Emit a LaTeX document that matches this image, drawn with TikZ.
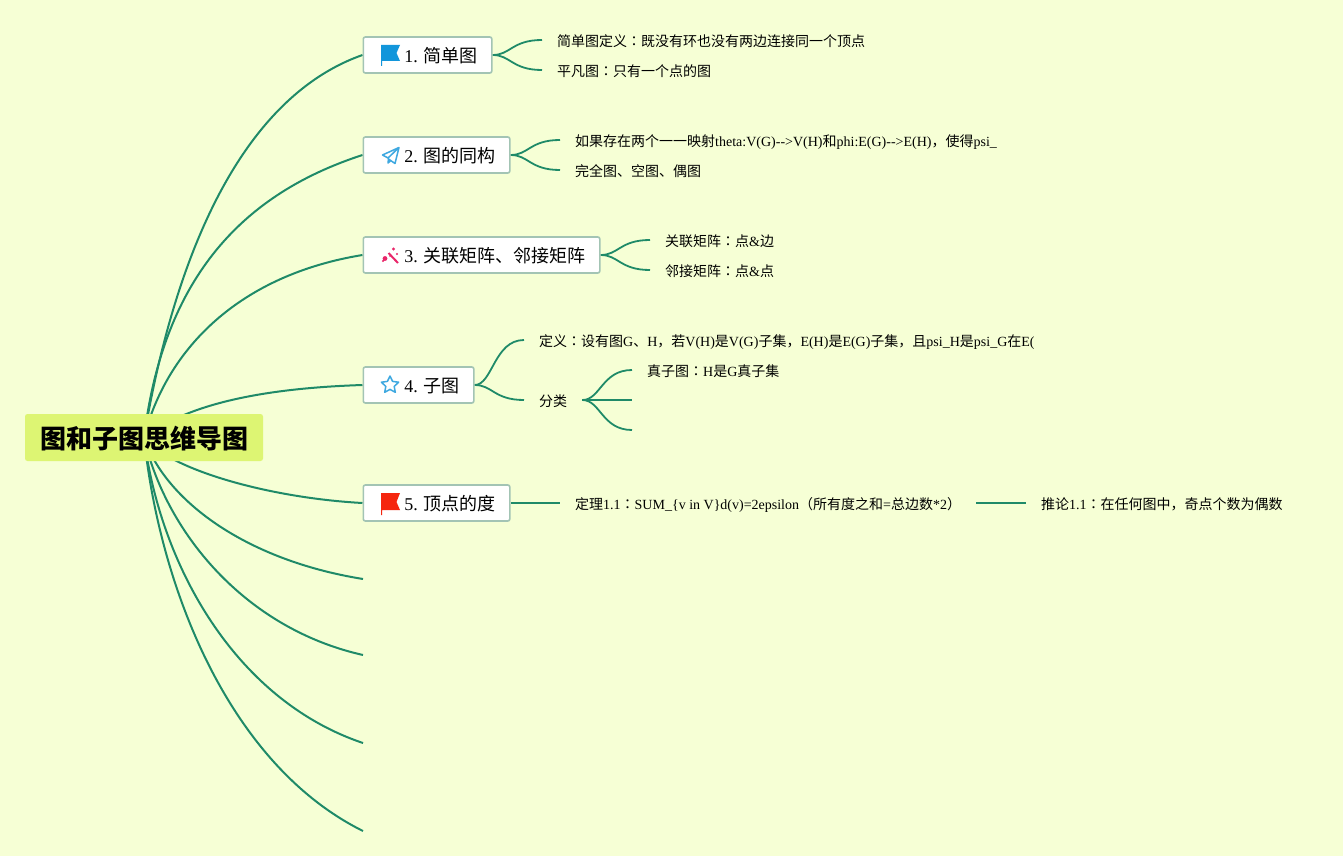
\documentclass[tikz,border=0pt]{standalone}
\usepackage{fontspec}
\usetikzlibrary{backgrounds,calc}
\setmainfont{Liberation Serif}
\newfontfamily\cjksc{Noto Sans CJK SC}
\newfontfamily\cjktc{Noto Sans CJK TC}
\newcommand{\Cn}[1]{{\cjksc #1}}
\newcommand{\Cl}{{\cjktc ：}}
\definecolor{bgc}{RGB}{246,255,213}
\definecolor{linec}{RGB}{31,138,104}
\definecolor{boxc}{RGB}{163,196,180}
\definecolor{rootc}{RGB}{221,245,115}
\definecolor{blueflag}{RGB}{18,150,219}
\definecolor{blueline}{RGB}{62,168,224}
\definecolor{pinkc}{RGB}{233,38,106}
\definecolor{redflag}{RGB}{245,38,15}
\tikzset{
  rootnode/.style={fill=rootc,rounded corners=2.5pt,inner sep=0pt,minimum width=238pt,minimum height=47pt,text height=25.5pt,text depth=4pt,font=\fontsize{26}{30}\selectfont},
  topic/.style={draw=boxc,line width=1.6pt,fill=white,rounded corners=2pt,inner sep=0pt,minimum height=36pt,anchor=west,text height=18pt,text depth=3pt,font=\fontsize{18}{22}\selectfont},
  leaf/.style={anchor=west,inner xsep=15pt,inner ysep=0pt,text height=16pt,text depth=2.5pt,font=\fontsize{14}{16}\selectfont},
  main/.style={draw=linec,line width=2pt},
  sub/.style={draw=linec,line width=1.8pt},
  iconline/.style={draw=blueline,line width=1.5pt,line join=round,fill=none}
}
\newcommand{\forkto}[2]{\draw[sub] (#1) .. controls ($(#1)+(18,0)$) and ($(#2)+(-30,0)$) .. (#2);}
\begin{document}
\begin{tikzpicture}[x=1pt,y=-1pt]
\useasboundingbox (0,0) rectangle (1343,856);
\node[rootnode] (root) at (144,437.5) {\Cn{\bfseries 图和子图思维导图}};
\node[topic] (t1) at (362.5,55) {\makebox[128.5pt][l]{\hspace*{41pt}1. \Cn{简单图}}};
\node[topic] (t2) at (362.5,155) {\makebox[146.5pt][l]{\hspace*{41pt}2. \Cn{图的同构}}};
\node[topic] (t3) at (362.5,255) {\makebox[236.5pt][l]{\hspace*{41pt}3. \Cn{关联矩阵、邻接矩阵}}};
\node[topic] (t4) at (362.5,385) {\makebox[110.5pt][l]{\hspace*{41pt}4. \Cn{子图}}};
\node[topic] (t5) at (362.5,503) {\makebox[146.5pt][l]{\hspace*{41pt}5. \Cn{顶点的度}}};
\node[leaf] (a1) at (542,40) {\Cn{简单图定义}\Cl\Cn{既没有环也没有两边连接同一个顶点}};
\node[leaf] (a2) at (542,70) {\Cn{平凡图}\Cl\Cn{只有一个点的图}};
\node[leaf] (b1) at (560,140) {\Cn{如果存在两个一一映射}theta:V(G)-{}->V(H)\Cn{和}phi:E(G)-{}->E(H)\Cn{，使得}psi\_};
\node[leaf] (b2) at (560,170) {\Cn{完全图、空图、偶图}};
\node[leaf] (c1) at (650,240) {\Cn{关联矩阵}\Cl\Cn{点}\&\Cn{边}};
\node[leaf] (c2) at (650,270) {\Cn{邻接矩阵}\Cl\Cn{点}\&\Cn{点}};
\node[leaf] (d1) at (524,340) {\Cn{定义}\Cl\Cn{设有图}G\Cn{、}H\Cn{，若}V(H)\Cn{是}V(G)\Cn{子集，}E(H)\Cn{是}E(G)\Cn{子集，且}psi\_H\Cn{是}psi\_G\Cn{在}E(};
\node[leaf] (d2) at (524,400) {\Cn{分类}};
\node[leaf] (d3) at (632,370) {\Cn{真子图}\Cl H\Cn{是}G\Cn{真子集}};
\coordinate (d4) at (632,400);
\coordinate (d5) at (632,430);
\node[leaf] (e1) at (560,503) {\Cn{定理}1.1\Cl SUM\_\{v in V\}d(v)=2epsilon\Cn{（所有度之和}=\Cn{总边数}*2\Cn{）}};
\node[leaf] (e2) at (1026,503) {\Cn{推论}1.1\Cl\Cn{在任何图中，奇点个数为偶数}};
\coordinate (f1) at (363,579);
\coordinate (f2) at (363,655);
\coordinate (f3) at (363,743);
\coordinate (f4) at (363,831);
\begin{scope}[on background layer]
\fill[bgc] (0,0) rectangle (1343,856);
\draw[main] (root.center) .. controls (172,270) and (235,100) .. (t1.west);
\draw[main] (root.center) .. controls (165,265) and (255,190) .. (t2.west);
\draw[main] (root.center) .. controls (167,348) and (240,275) .. (t3.west);
\draw[main] (root.center) .. controls (190,402) and (270,388) .. (t4.west);
\draw[main] (root.center) .. controls (170,470) and (270,498) .. (t5.west);
\draw[main] (root.center) .. controls (165,500) and (245,560) .. (f1);
\draw[main] (root.center) .. controls (165,530) and (243,628) .. (f2);
\draw[main] (root.center) .. controls (160,565) and (235,700) .. (f3);
\draw[main] (root.center) .. controls (160,590) and (230,765) .. (f4);
\forkto{t1.east}{a1.west}
\forkto{t1.east}{a2.west}
\forkto{t2.east}{b1.west}
\forkto{t2.east}{b2.west}
\forkto{t3.east}{c1.west}
\forkto{t3.east}{c2.west}
\forkto{t4.east}{d1.west}
\forkto{t4.east}{d2.west}
\forkto{d2.east}{d3.west}
\draw[sub] (d2.east) -- (d4);
\forkto{d2.east}{d5}
\draw[sub] (t5.east) -- (e1.west);
\draw[sub] (e1.east) -- (e2.west);
\end{scope}
% icons
\fill[blueflag] (381,45) -- (400,45) -- (396.5,53) -- (400,61) -- (382,61) -- (382,66) -- (381,66) -- cycle;
\draw[iconline] (399,147.5) -- (382.5,155) -- (388,158) -- (399,147.5) -- (395,163.5) -- (388.5,159) -- (388,163) -- (391,160.5);
\draw[pinkc,line width=2pt] (388.5,253) -- (398,263);
\fill[pinkc] (385,258.5) circle (2.4) (393.5,249) circle (1.7) (397,254) circle (1.1) (383,261) circle (1.1) (390,256) circle (0.9);
\draw[iconline] (390,376) -- (387.4,381.4) -- (381.4,382.2) -- (385.8,386.4) -- (384.7,392.3) -- (390,389.4) -- (395.3,392.3) -- (394.2,386.4) -- (398.6,382.2) -- (392.6,381.4) -- cycle;
\fill[redflag] (381,493) -- (400,493) -- (396.5,502) -- (400,510) -- (382,510) -- (382,515) -- (381,515) -- cycle;
\end{tikzpicture}
\end{document}
